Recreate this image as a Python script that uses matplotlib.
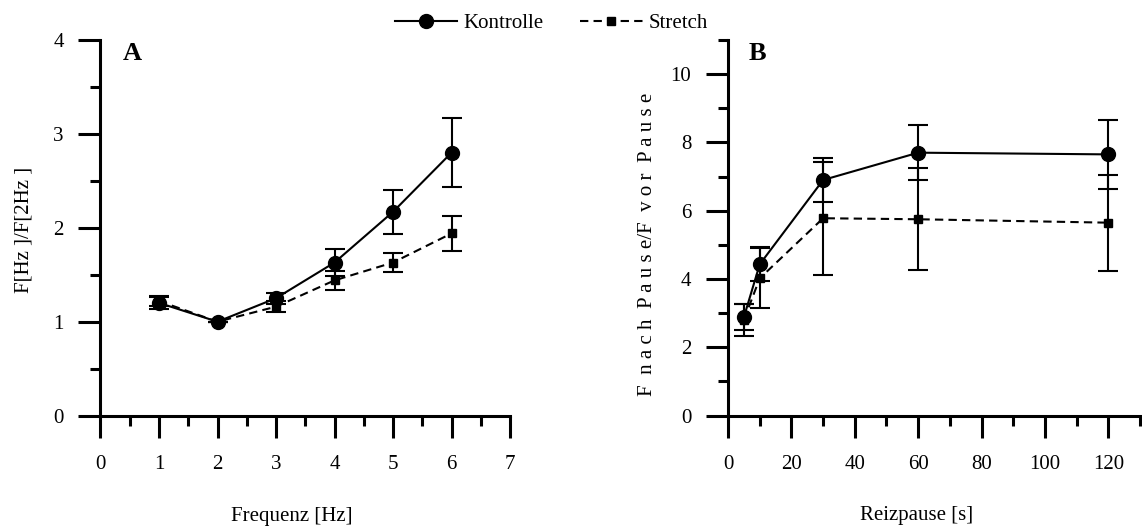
import matplotlib
matplotlib.use("Agg")
import matplotlib.pyplot as plt
from matplotlib.lines import Line2D
from matplotlib.ticker import MultipleLocator

# Panel A: force ratio vs. stimulation frequency
freq_hz = [1, 2, 3, 4, 5, 6]
ctrl_a = [1.20, 1.00, 1.25, 1.63, 2.17, 2.80]
ctrl_a_err = [0.06, 0.0, 0.06, 0.14, 0.235, 0.365]
stretch_a = [1.22, 1.00, 1.16, 1.44, 1.63, 1.94]
stretch_a_err = [0.05, 0.0, 0.06, 0.10, 0.105, 0.185]

# Panel B: post-pause / pre-pause force vs. rest interval
pause_s = [5, 10, 30, 60, 120]
ctrl_b = [2.88, 4.43, 6.90, 7.70, 7.65]
ctrl_b_err = [0.38, 0.50, 0.63, 0.80, 1.00]
stretch_b = [2.80, 4.02, 5.78, 5.75, 5.65]
stretch_b_err = [0.47, 0.88, 1.65, 1.50, 1.41]

plt.rcParams['font.family'] = ['Liberation Serif', 'DejaVu Serif']
plt.rcParams['font.size'] = 15

fig = plt.figure(figsize=(11.42, 5.27), dpi=100)
ax_a = fig.add_axes([0.088, 0.2114, 0.3586, 0.7127])
ax_b = fig.add_axes([0.6375, 0.2114, 0.3608, 0.7127])

dash = (0, (4, 2.5))
ctrl_style = dict(fmt='-o', color='black', markersize=10, lw=1.5,
                  elinewidth=1.5, capsize=7.5, capthick=1.5)
stretch_style = dict(fmt='s', ls=dash, color='black', markersize=5.5, lw=1.5,
                     elinewidth=1.5, capsize=7.5, capthick=1.5)


def style_axis(ax):
    for side in ['top', 'right']:
        ax.spines[side].set_visible(False)
    for side in ['left', 'bottom']:
        ax.spines[side].set_linewidth(2.2)
    ax.tick_params(which='major', direction='out', length=15.5, width=2.2, labelsize=15)
    ax.tick_params(which='minor', direction='out', length=7.5, width=2.2)
    ax.tick_params(axis='y', which='major', pad=11)
    ax.tick_params(axis='x', which='major', pad=13)


# --- A ---
ax_a.errorbar(freq_hz, stretch_a, yerr=stretch_a_err, **stretch_style)
ax_a.errorbar(freq_hz, ctrl_a, yerr=ctrl_a_err, **ctrl_style)
ax_a.set_xlim(0, 7)
ax_a.set_ylim(0, 4)
ax_a.xaxis.set_major_locator(MultipleLocator(1))
ax_a.xaxis.set_minor_locator(MultipleLocator(0.5))
ax_a.yaxis.set_major_locator(MultipleLocator(1))
ax_a.yaxis.set_minor_locator(MultipleLocator(0.5))
style_axis(ax_a)
ax_a.set_xlabel('Frequenz [Hz]')
ax_a.xaxis.set_label_coords(0.468, -0.243)
ax_a.set_ylabel('F[Hz ]/F[2Hz ]')
ax_a.yaxis.set_label_coords(-0.163, 0.494)
ax_a.text(0.077, 0.963, 'A', transform=ax_a.transAxes, fontsize=19, fontweight='bold',
          ha='center', va='center')

# --- B ---
ax_b.errorbar(pause_s, stretch_b, yerr=stretch_b_err, **stretch_style)
ax_b.errorbar(pause_s, ctrl_b, yerr=ctrl_b_err, **ctrl_style)
ax_b.set_xlim(0, 130)
ax_b.set_ylim(0, 11)
ax_b.xaxis.set_major_locator(MultipleLocator(20))
ax_b.xaxis.set_minor_locator(MultipleLocator(10))
ax_b.yaxis.set_major_locator(MultipleLocator(2))
ax_b.yaxis.set_minor_locator(MultipleLocator(1))
ax_b.set_xticks([0, 20, 40, 60, 80, 100, 120])
style_axis(ax_b)
ax_b.set_xlabel('Reizpause [s]')
ax_b.xaxis.set_label_coords(0.458, -0.240)
ax_b.set_ylabel('F  n a c h  P a u s e/F  v o r  P a u s e')
ax_b.yaxis.set_label_coords(-0.172, 0.457)
ax_b.text(0.072, 0.963, 'B', transform=ax_b.transAxes, fontsize=19, fontweight='bold',
          ha='center', va='center')

legend_handles = [
    Line2D([], [], color='black', lw=1.5, marker='o', markersize=10),
    Line2D([], [], color='black', lw=1.5, ls=dash, marker='s', markersize=5.5),
]
fig.legend(legend_handles, ['Kontrolle', 'Stretch'], loc='upper center',
           bbox_to_anchor=(0.483, 1.01), ncol=2, frameon=False, handlelength=3.0,
           handletextpad=0.3, columnspacing=1.75, fontsize=15)

fig.savefig('out.png', dpi=100)
